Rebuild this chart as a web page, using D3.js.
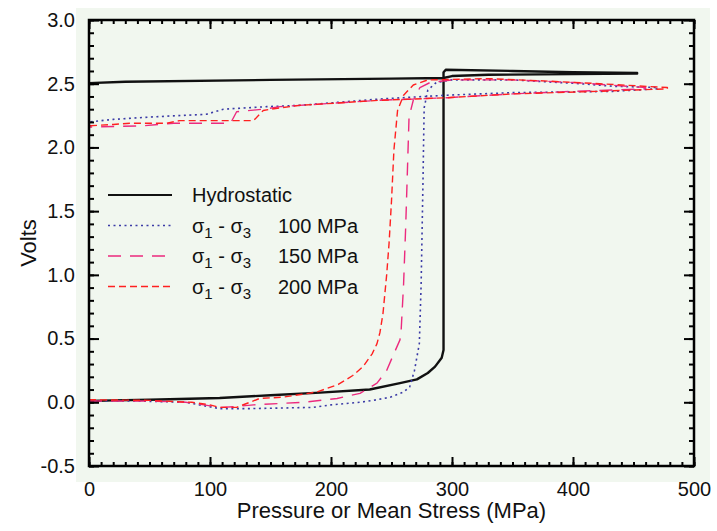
<!DOCTYPE html>
<html>
<head>
<meta charset="utf-8">
<script src="https://cdn.jsdelivr.net/npm/d3@7/dist/d3.min.js"></script>
<style>
  html, body { margin: 0; padding: 0; background: #ffffff; }
  svg { display: block; font-family: "Liberation Sans", Arial, Helvetica, sans-serif; }
</style>
</head>
<body>
<div id="chart"></div>
<script>
// [pressure MPa, volts] — loading branch then unloading branch
const hydrostatic = [
  [0, 0.01], [20, 0.015], [50, 0.02], [108, 0.034], [150, 0.055], [191, 0.076], [232, 0.1],
  [257, 0.15], [271, 0.18], [280, 0.23], [286, 0.28], [291.5, 0.35], [293, 0.41],
  [293, 2.59], [295, 2.61], [350, 2.6], [400, 2.59], [453, 2.585],
  [453, 2.58], [400, 2.575], [330, 2.57], [300, 2.56], [293, 2.545], [250, 2.54],
  [150, 2.53], [30, 2.515], [0, 2.505]
];

const dev100 = [
  [0, 0.01], [40, 0.01], [80, 0.0], [108, -0.05], [130, -0.05], [160, -0.045], [185, -0.04],
  [200, -0.02], [224, 0.0], [235, 0.015], [249, 0.04], [260, 0.08], [265, 0.12], [269, 0.25],
  [273, 0.46], [274.5, 0.93], [276, 1.72], [276.5, 2.03], [277, 2.31], [280, 2.45], [287, 2.51],
  [300, 2.53], [350, 2.53], [406, 2.5], [433, 2.48], [470, 2.47],
  [470, 2.46], [433, 2.44], [350, 2.43], [296, 2.41], [240, 2.38], [174, 2.33], [147, 2.32],
  [111, 2.3], [97, 2.26], [53, 2.24], [20, 2.22], [0, 2.2]
];

const dev150 = [
  [0, 0.01], [50, 0.01], [80, 0.0], [95, -0.02], [108, -0.04], [120, -0.035], [136, -0.02],
  [177, 0.0], [205, 0.03], [224, 0.07], [238, 0.15], [246, 0.25], [251, 0.36], [257, 0.49],
  [258, 0.57], [260, 0.93], [261.7, 1.37], [263, 1.77], [264.5, 2.24], [268, 2.37],
  [273.5, 2.47], [282, 2.51], [300, 2.53], [350, 2.53], [400, 2.51], [460, 2.47],
  [460, 2.46], [400, 2.44], [350, 2.42], [296, 2.39], [240, 2.37], [174, 2.33], [158, 2.32],
  [144, 2.3], [122, 2.28], [117, 2.19], [70, 2.19], [45, 2.17], [0, 2.16]
];

const dev200 = [
  [0, 0.02], [50, 0.015], [85, 0.0], [100, -0.02], [108, -0.04], [122, -0.04], [141, 0.03],
  [160, 0.04], [188, 0.08], [206, 0.14], [218, 0.21], [226.5, 0.28], [234, 0.38], [238, 0.46],
  [240.5, 0.55], [243, 0.7], [246, 1.0], [248, 1.25], [250, 1.58], [252, 1.98], [255, 2.29],
  [260, 2.41], [268, 2.49], [280, 2.53], [330, 2.54], [380, 2.52], [422, 2.5], [478, 2.47],
  [478, 2.46], [420, 2.44], [350, 2.42], [296, 2.39], [240, 2.37], [174, 2.33], [150, 2.3],
  [144, 2.29], [136, 2.21], [75, 2.21], [64, 2.19], [34, 2.19], [20, 2.18], [0, 2.17]
];

const seriesNames = ["Hydrostatic", "100 MPa", "150 MPa", "200 MPa"];
const xMajorTicks = [0, 100, 200, 300, 400, 500];
const yMajorTicks = [-0.5, 0, 0.5, 1, 1.5, 2, 2.5, 3];

const width = 717;
const height = 531;
const margin = { top: 20, right: 23, bottom: 65, left: 89 };
const innerWidth = width - margin.left - margin.right;
const innerHeight = height - margin.top - margin.bottom;

const x = d3.scaleLinear().domain([0, 500]).range([0, innerWidth]);
const y = d3.scaleLinear().domain([-0.5, 3]).range([innerHeight, 0]);

const styles = [
  { data: hydrostatic, color: "#111111", width: 2.4, dash: null },
  { data: dev100, color: "#3b3ba6", width: 1.6, dash: "2 3.5" },
  { data: dev150, color: "#ec2a7e", width: 1.4, dash: "13 9" },
  { data: dev200, color: "#ff2020", width: 1.4, dash: "7 4" }
];

const svg = d3.select("#chart").append("svg").attr("width", width).attr("height", height);

svg.append("rect")
  .attr("x", 76).attr("y", 8)
  .attr("width", 634).attr("height", 474)
  .attr("fill", "#f1f7ef");

const chart = svg.append("g").attr("transform", `translate(${margin.left},${margin.top})`);

const line = d3.line().x((d) => x(d[0])).y((d) => y(d[1]));

styles.forEach((s) => {
  chart.append("path")
    .datum(s.data)
    .attr("fill", "none")
    .attr("stroke", s.color)
    .attr("stroke-width", s.width)
    .attr("stroke-dasharray", s.dash)
    .attr("stroke-linejoin", "round")
    .attr("d", line);
});

// axes: ticks point inward on all four sides
const styleAxis = (axis) => {
  axis.selectAll("line").attr("stroke", "#000").attr("stroke-width", 2);
  axis.select(".domain").remove();
  axis.selectAll("text").attr("fill", "#111").attr("font-size", 20);
};
// tick-only axes: drop the empty label nodes
const tickOnly = (axis) => {
  styleAxis(axis);
  axis.selectAll("text").remove();
};

chart.append("g")
  .attr("transform", `translate(0,${innerHeight})`)
  .call(d3.axisBottom(x).tickValues(d3.range(0, 501, 10)).tickSize(-4))
  .call(tickOnly);
chart.append("g")
  .attr("transform", `translate(0,${innerHeight})`)
  .call(d3.axisBottom(x).tickValues(xMajorTicks).tickSizeInner(-9).tickSizeOuter(0).tickPadding(16))
  .call(styleAxis);
chart.append("g")
  .call(d3.axisTop(x).tickValues(d3.range(0, 501, 10)).tickSize(-4))
  .call(tickOnly);
chart.append("g")
  .call(d3.axisTop(x).tickValues(xMajorTicks).tickSize(-9))
  .call(tickOnly);

const yMinor = d3.range(-5, 31).map((v) => v / 10);
const yFormat = (v) => d3.format(".1f")(v).replace("−", "-");
chart.append("g")
  .call(d3.axisLeft(y).tickValues(yMinor).tickSize(-5))
  .call(tickOnly);
chart.append("g")
  .call(d3.axisLeft(y).tickValues(yMajorTicks).tickSizeInner(-10).tickSizeOuter(0).tickPadding(14).tickFormat(yFormat))
  .call(styleAxis);
chart.append("g")
  .attr("transform", `translate(${innerWidth},0)`)
  .call(d3.axisRight(y).tickValues(yMinor).tickSize(-5))
  .call(tickOnly);
chart.append("g")
  .attr("transform", `translate(${innerWidth},0)`)
  .call(d3.axisRight(y).tickValues(yMajorTicks).tickSize(-10))
  .call(tickOnly);

chart.append("rect")
  .attr("width", innerWidth).attr("height", innerHeight)
  .attr("fill", "none").attr("stroke", "#000").attr("stroke-width", 2.5);

// legend
const legend = svg.append("g");
styles.forEach((s, i) => {
  const ly = 195 + i * 30.5;
  legend.append("line")
    .attr("x1", 108).attr("x2", 172).attr("y1", ly).attr("y2", ly)
    .attr("stroke", s.color).attr("stroke-width", i === 0 ? 2 : s.width)
    .attr("stroke-dasharray", s.dash);
  if (i === 0) {
    legend.append("text").attr("x", 192).attr("y", ly + 7)
      .attr("font-size", 20).attr("fill", "#111").text(seriesNames[i]);
  } else {
    const t = legend.append("text").attr("x", 192).attr("y", ly + 7)
      .attr("font-size", 20).attr("fill", "#111");
    t.append("tspan").text("σ");
    t.append("tspan").attr("font-size", 15).attr("dy", 5).text("1");
    t.append("tspan").attr("dy", -5).text(" - σ");
    t.append("tspan").attr("font-size", 15).attr("dy", 5).text("3");
    legend.append("text").attr("x", 278).attr("y", ly + 7)
      .attr("font-size", 20).attr("fill", "#111").text(seriesNames[i]);
  }
});

svg.append("text")
  .attr("x", margin.left + innerWidth / 2)
  .attr("y", 518)
  .attr("text-anchor", "middle")
  .attr("font-size", 22)
  .attr("fill", "#111")
  .text("Pressure or Mean Stress (MPa)");

svg.append("text")
  .attr("transform", `translate(36 ${margin.top + innerHeight / 2}) rotate(-90)`)
  .attr("text-anchor", "middle")
  .attr("font-size", 22)
  .attr("fill", "#111")
  .text("Volts");
</script>
</body>
</html>
